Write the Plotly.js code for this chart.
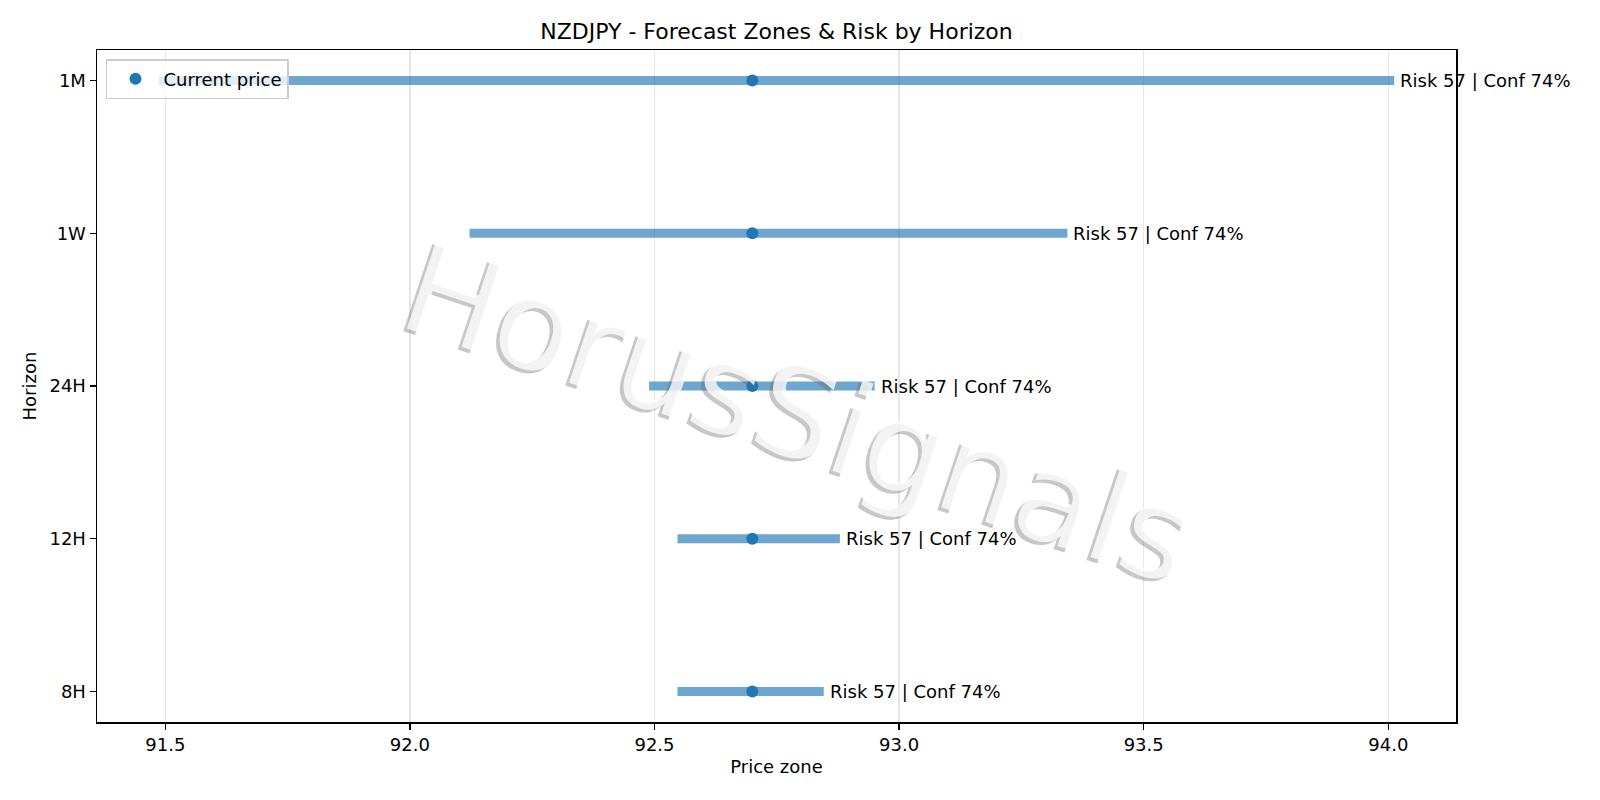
<!DOCTYPE html>
<html>
<head>
<meta charset="utf-8">
<script src="https://cdn.plot.ly/plotly-3.0.1.min.js"></script>
<style>
  html, body { margin: 0; padding: 0; background: #ffffff; }
  #chart { width: 1600px; height: 800px; }
</style>
</head>
<body>
<div id="chart"></div>
<script>
// ---- Data ----
const horizons      = ['1M', '1W', '24H', '12H', '8H'];
const categoryOrder = ['8H', '12H', '24H', '1W', '1M'];
const zoneLow       = [91.487, 92.122, 92.489, 92.547, 92.547];
const zoneHigh      = [94.012, 93.344, 92.950, 92.879, 92.846];
const currentPrice  = [92.70, 92.70, 92.70, 92.70, 92.70];
const riskScore     = [57, 57, 57, 57, 57];
const confidencePct = [74, 74, 74, 74, 74];
const xTickValues   = [91.5, 92.0, 92.5, 93.0, 93.5, 94.0];
const xTickLabels   = ['91.5', '92.0', '92.5', '93.0', '93.5', '94.0'];
const chartTitle    = 'NZDJPY - Forecast Zones & Risk by Horizon';
const watermarkText = 'HorusSignals';

const FONT = 'DejaVu Sans, Liberation Sans, sans-serif';
const C0 = '#1f77b4';
const BAR = 'rgba(31,119,180,0.65)';

const traces = [];
horizons.forEach((h, i) => {
  traces.push({
    type: 'scatter',
    mode: 'lines',
    x: [zoneLow[i], zoneHigh[i]],
    y: [h, h],
    line: { color: BAR, width: 9 },
    hoverinfo: 'skip',
    showlegend: false
  });
});
traces.push({
  type: 'scatter',
  mode: 'markers',
  x: currentPrice,
  y: horizons,
  name: 'Current price',
  marker: { color: C0, size: 12 },
  showlegend: true
});

const annotations = horizons.map((h, i) => ({
  x: zoneHigh[i],
  y: h,
  xref: 'x',
  yref: 'y',
  text: 'Risk ' + riskScore[i] + ' | Conf ' + confidencePct[i] + '%',
  showarrow: false,
  xanchor: 'left',
  yanchor: 'middle',
  xshift: 4,
  font: { family: FONT, size: 18, color: '#000000' }
}));

// watermark: shadow then white text on top
const WM_SIZE = 126, WM_ANGLE = 18.5, WM_DX = 22, WM_DY = -27;
annotations.push({
  x: 0.5, y: 0.5, xref: 'paper', yref: 'paper',
  text: watermarkText, showarrow: false,
  xanchor: 'center', yanchor: 'middle',
  textangle: WM_ANGLE,
  xshift: WM_DX - 3.5, yshift: WM_DY - 3.5,
  font: { family: FONT, size: WM_SIZE, color: 'rgba(100,100,100,0.36)' }
});
annotations.push({
  x: 0.5, y: 0.5, xref: 'paper', yref: 'paper',
  text: watermarkText, showarrow: false,
  xanchor: 'center', yanchor: 'middle',
  textangle: WM_ANGLE,
  xshift: WM_DX, yshift: WM_DY,
  font: { family: FONT, size: WM_SIZE, color: 'rgba(255,255,255,0.78)' }
});

const layout = {
  width: 1600,
  height: 800,
  margin: { l: 97, r: 144, t: 50, b: 78, pad: 0 },
  paper_bgcolor: '#ffffff',
  plot_bgcolor: '#ffffff',
  font: { family: FONT, size: 18, color: '#000000' },
  title: {
    text: chartTitle,
    font: { family: FONT, size: 22, color: '#000000' },
    xref: 'paper', x: 0.5, xanchor: 'center',
    yref: 'container', y: 0.961, yanchor: 'middle'
  },
  xaxis: {
    range: [91.3604, 94.1384],
    tickmode: 'array',
    tickvals: xTickValues,
    ticktext: xTickLabels,
    showgrid: true,
    gridcolor: '#e6e6e6',
    gridwidth: 1.4,
    zeroline: false,
    showline: true,
    linecolor: '#000000',
    linewidth: 1.5,
    mirror: true,
    ticks: 'outside',
    ticklen: 6,
    tickwidth: 1.5,
    tickcolor: '#000000',
    tickfont: { family: FONT, size: 18, color: '#000000' },
    automargin: false,
    title: { text: 'Price zone', font: { family: FONT, size: 18, color: '#000000' }, standoff: 6 }
  },
  yaxis: {
    type: 'category',
    categoryorder: 'array',
    categoryarray: categoryOrder,
    range: [-0.2, 4.2],
    showgrid: false,
    zeroline: false,
    showline: true,
    linecolor: '#000000',
    linewidth: 1.5,
    mirror: true,
    ticks: 'outside',
    ticklen: 6,
    tickwidth: 1.5,
    tickcolor: '#000000',
    tickfont: { family: FONT, size: 18, color: '#000000' },
    automargin: false,
    title: { text: 'Horizon', font: { family: FONT, size: 18, color: '#000000' }, standoff: 8 }
  },
  showlegend: true,
  legend: {
    x: 0.0066, y: 0.9866, xanchor: 'left', yanchor: 'top',
    bgcolor: 'rgba(255,255,255,0.8)',
    bordercolor: '#cccccc',
    borderwidth: 1.5,
    itemwidth: 46,
    font: { family: FONT, size: 18, color: '#000000' }
  },
  annotations: annotations,
  hovermode: false
};

Plotly.newPlot('chart', traces, layout, { displayModeBar: false, staticPlot: true });
</script>
</body>
</html>
